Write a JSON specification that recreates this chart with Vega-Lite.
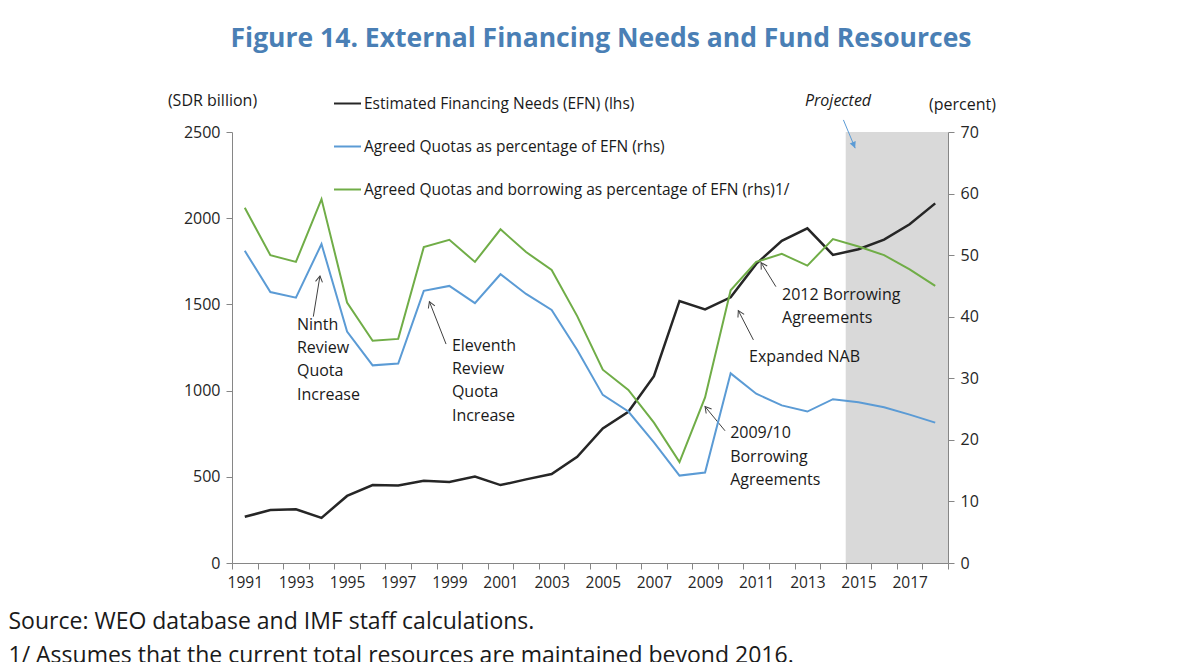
{
  "$schema": "https://vega.github.io/schema/vega-lite/v6.json",
  "width": 716,
  "height": 431,
  "autosize": "none",
  "padding": {"left": 232, "top": 132, "right": 234, "bottom": 99},
  "background": "white",
  "config": {
    "view": {"stroke": null},
    "font": "Open Sans",
    "axis": {"labelFont": "Open Sans", "titleFont": "Open Sans"},
    "legend": {"labelFont": "Open Sans"}
  },
  "title": {
    "text": "Figure 14. External Financing Needs and Fund Resources",
    "font": "Open Sans",
    "fontSize": 26.5,
    "fontWeight": "bold",
    "color": "#4A7FB5",
    "anchor": "middle",
    "frame": "group",
    "dx": 11,
    "offset": 37
  },
  "datasets": {
    "series": [
      {"year": 1991, "efn": 268, "quota": 50.7, "qb": 57.7},
      {"year": 1992, "efn": 307, "quota": 44.0, "qb": 50.0},
      {"year": 1993, "efn": 312, "quota": 43.1, "qb": 48.9},
      {"year": 1994, "efn": 262, "quota": 51.8, "qb": 59.1},
      {"year": 1995, "efn": 389, "quota": 37.6, "qb": 42.3},
      {"year": 1996, "efn": 452, "quota": 32.1, "qb": 36.1},
      {"year": 1997, "efn": 449, "quota": 32.4, "qb": 36.4},
      {"year": 1998, "efn": 477, "quota": 44.2, "qb": 51.3},
      {"year": 1999, "efn": 470, "quota": 45.0, "qb": 52.5},
      {"year": 2000, "efn": 501, "quota": 42.2, "qb": 48.9},
      {"year": 2001, "efn": 452, "quota": 46.9, "qb": 54.2},
      {"year": 2002, "efn": 485, "quota": 43.7, "qb": 50.5},
      {"year": 2003, "efn": 516, "quota": 41.1, "qb": 47.6},
      {"year": 2004, "efn": 616, "quota": 34.6, "qb": 40.1},
      {"year": 2005, "efn": 781, "quota": 27.3, "qb": 31.4},
      {"year": 2006, "efn": 877, "quota": 24.6, "qb": 28.1},
      {"year": 2007, "efn": 1084, "quota": 19.6, "qb": 22.8},
      {"year": 2008, "efn": 1520, "quota": 14.2, "qb": 16.4},
      {"year": 2009, "efn": 1471, "quota": 14.7, "qb": 26.9},
      {"year": 2010, "efn": 1541, "quota": 30.8, "qb": 44.3},
      {"year": 2011, "efn": 1735, "quota": 27.5, "qb": 48.9},
      {"year": 2012, "efn": 1869, "quota": 25.6, "qb": 50.2},
      {"year": 2013, "efn": 1941, "quota": 24.6, "qb": 48.3},
      {"year": 2014, "efn": 1787, "quota": 26.6, "qb": 52.6},
      {"year": 2015, "efn": 1820, "quota": 26.1, "qb": 51.4},
      {"year": 2016, "efn": 1876, "quota": 25.3, "qb": 50.0},
      {"year": 2017, "efn": 1965, "quota": 24.1, "qb": 47.7},
      {"year": 2018, "efn": 2086, "quota": 22.8, "qb": 45.0}
    ],
    "proj": [{"year": 2014.5, "year2": 2018.5}],
    "arrows": [
      {"kind": "note", "year": 1993.68, "value": 1429, "year2": 1993.94, "value2": 1665},
      {"kind": "note", "year": 1998.87, "value": 1270, "year2": 1998.22, "value2": 1516},
      {"kind": "note", "year": 2009.78, "value": 767, "year2": 2009.0, "value2": 907},
      {"kind": "note", "year": 2010.89, "value": 1294, "year2": 2010.30, "value2": 1464},
      {"kind": "note", "year": 2011.77, "value": 1603, "year2": 2011.19, "value2": 1742},
      {"kind": "proj", "year": 2014.41, "value": 2570, "year2": 2014.87, "value2": 2406}
    ],
    "labels": [
      {"year": 1993.04, "value": 1353, "label": "Ninth\nReview\nQuota\nIncrease"},
      {"year": 1999.10, "value": 1231, "label": "Eleventh\nReview\nQuota\nIncrease"},
      {"year": 2009.98, "value": 723, "label": "2009/10\nBorrowing\nAgreements"},
      {"year": 2010.72, "value": 1168, "label": "Expanded NAB"},
      {"year": 2012.01, "value": 1527, "label": "2012 Borrowing\nAgreements"}
    ],
    "projNote": [{"year": 2014.2, "value": 2653, "label": "Projected"}]
  },
  "encoding": {
    "x": {
      "field": "year",
      "type": "quantitative",
      "scale": {"domain": [1990.5, 2018.5], "nice": false, "zero": false},
      "axis": {
        "values": [1990.5,1991,1991.5,1992,1992.5,1993,1993.5,1994,1994.5,1995,1995.5,1996,1996.5,1997,1997.5,1998,1998.5,1999,1999.5,2000,2000.5,2001,2001.5,2002,2002.5,2003,2003.5,2004,2004.5,2005,2005.5,2006,2006.5,2007,2007.5,2008,2008.5,2009,2009.5,2010,2010.5,2011,2011.5,2012,2012.5,2013,2013.5,2014,2014.5,2015,2015.5,2016,2016.5,2017,2017.5,2018,2018.5],
        "labelExpr": "datum.value % 2 === 1 ? format(datum.value, 'd') : ''",
        "labelOverlap": false,
        "labelFlush": false,
        "tickOpacity": {"condition": {"test": "datum.value % 1 !== 0", "value": 1}, "value": 0},
        "tickSize": 6,
        "tickColor": "#868686",
        "domainColor": "#868686",
        "labelFontSize": 15.5,
        "labelColor": "#262626",
        "labelPadding": 6,
        "grid": false,
        "title": ["Source: WEO database and IMF staff calculations.", "1/ Assumes that the current total resources are maintained beyond 2016."],
        "titleFontSize": 23,
        "titleFontWeight": "normal",
        "titleColor": "#1a1a1a",
        "titleAlign": "left",
        "titleAnchor": "start",
        "titleBaseline": "alphabetic",
        "titleX": -224,
        "titleY": 65,
        "titleLineHeight": 34
      }
    }
  },
  "layer": [
    {
      "layer": [
        {
          "data": {"name": "proj"},
          "mark": {"type": "rect", "color": "#D9D9D9"},
          "encoding": {
            "x2": {"field": "year2"},
            "y": {"datum": 0, "type": "quantitative"},
            "y2": {"datum": 2500}
          }
        },
        {
          "data": {"name": "series"},
          "transform": [{"fold": ["efn"], "as": ["series", "value"]}],
          "mark": {"type": "line", "strokeWidth": 2.5},
          "encoding": {
            "y": {
              "field": "value",
              "type": "quantitative",
              "scale": {"domain": [0, 2500], "nice": false},
              "axis": {
                "values": [0, 500, 1000, 1500, 2000, 2500],
                "format": "d",
                "title": "(SDR billion)",
                "titleAngle": 0,
                "titleX": -20,
                "titleY": -32,
                "titleAlign": "center",
                "titleBaseline": "middle",
                "titleFontSize": 16,
                "titleFontWeight": "normal",
                "titleColor": "#1a1a1a",
                "labelFontSize": 16,
                "labelColor": "#262626",
                "labelPadding": 6,
                "tickSize": 6,
                "tickColor": "#868686",
                "domainColor": "#868686",
                "grid": false
              }
            },
            "color": {
              "field": "series",
              "type": "nominal",
              "scale": {"domain": ["efn", "quota", "qb"], "range": ["#262626", "#5B9BD5", "#70AD47"]},
              "legend": {
                "orient": "none",
                "legendX": 101,
                "legendY": -43,
                "direction": "vertical",
                "title": null,
                "padding": 0,
                "symbolType": "stroke",
                "symbolSize": 729,
                "symbolStrokeWidth": 2,
                "labelFontSize": 15.5,
                "labelColor": "#1a1a1a",
                "labelOffset": 2,
                "labelLimit": 600,
                "rowPadding": 20,
                "labelExpr": "datum.value === 'efn' ? 'Estimated Financing Needs (EFN) (lhs)' : datum.value === 'quota' ? 'Agreed Quotas as percentage of EFN (rhs)' : 'Agreed Quotas and borrowing as percentage of EFN (rhs)1/'"
              }
            }
          }
        },
        {
          "data": {"name": "arrows"},
          "transform": [{"filter": "datum.kind === 'note'"}],
          "mark": {"type": "rule", "color": "#404040", "strokeWidth": 1},
          "encoding": {
            "y": {"field": "value", "type": "quantitative"},
            "x2": {"field": "year2"},
            "y2": {"field": "value2"}
          }
        },
        {
          "data": {"name": "arrows"},
          "transform": [
            {"filter": "datum.kind === 'note'"},
            {"calculate": "atan2((datum.year2 - datum.year) * 25.571, (datum.value2 - datum.value) * 0.1724) * 180 / PI", "as": "ang"}
          ],
          "mark": {"type": "point", "shape": "M-0.7,1.2L0,0L0.7,1.2", "filled": false, "stroke": "#404040", "strokeWidth": 1, "size": 100, "opacity": 1},
          "encoding": {
            "x": {"field": "year2", "type": "quantitative"},
            "y": {"field": "value2", "type": "quantitative"},
            "angle": {"field": "ang", "type": "quantitative", "scale": null}
          }
        },
        {
          "data": {"name": "arrows"},
          "transform": [{"filter": "datum.kind === 'proj'"}],
          "mark": {"type": "rule", "color": "#5B9BD5", "strokeWidth": 1},
          "encoding": {
            "y": {"field": "value", "type": "quantitative"},
            "x2": {"field": "year2"},
            "y2": {"field": "value2"}
          }
        },
        {
          "data": {"name": "arrows"},
          "transform": [
            {"filter": "datum.kind === 'proj'"},
            {"calculate": "atan2((datum.year2 - datum.year) * 25.571, (datum.value2 - datum.value) * 0.1724) * 180 / PI", "as": "ang"}
          ],
          "mark": {"type": "point", "shape": "M-0.8,1.6L0,0L0.8,1.6Z", "filled": true, "fill": "#5B9BD5", "strokeWidth": 0, "size": 64, "opacity": 1},
          "encoding": {
            "x": {"field": "year2", "type": "quantitative"},
            "y": {"field": "value2", "type": "quantitative"},
            "angle": {"field": "ang", "type": "quantitative", "scale": null}
          }
        },
        {
          "data": {"name": "labels"},
          "mark": {"type": "text", "align": "left", "baseline": "alphabetic", "fontSize": 16, "lineBreak": "\n", "lineHeight": 23.3, "color": "#1a1a1a", "font": "Open Sans"},
          "encoding": {
            "y": {"field": "value", "type": "quantitative"},
            "text": {"field": "label"}
          }
        },
        {
          "data": {"name": "projNote"},
          "mark": {"type": "text", "align": "center", "baseline": "alphabetic", "fontSize": 16, "fontStyle": "italic", "color": "#1a1a1a", "font": "Open Sans"},
          "encoding": {
            "y": {"field": "value", "type": "quantitative"},
            "text": {"field": "label"}
          }
        }
      ]
    },
    {
      "data": {"name": "series"},
      "transform": [{"fold": ["quota", "qb"], "as": ["series", "value"]}],
      "mark": {"type": "line", "strokeWidth": 2},
      "encoding": {
        "y": {
          "field": "value",
          "type": "quantitative",
          "scale": {"domain": [0, 70], "nice": false},
          "axis": {
            "orient": "right",
            "values": [0, 10, 20, 30, 40, 50, 60, 70],
            "title": "(percent)",
            "titleAngle": 0,
            "titleX": 14,
            "titleY": -28,
            "titleAlign": "center",
            "titleBaseline": "middle",
            "titleFontSize": 16,
            "titleFontWeight": "normal",
            "titleColor": "#1a1a1a",
            "labelFontSize": 16,
            "labelColor": "#262626",
            "labelPadding": 6,
            "tickSize": 6,
            "tickColor": "#868686",
            "domainColor": "#868686",
            "grid": false
          }
        },
        "color": {
          "field": "series",
          "type": "nominal",
          "scale": {"domain": ["efn", "quota", "qb"], "range": ["#262626", "#5B9BD5", "#70AD47"]}
        }
      }
    }
  ],
  "resolve": {"scale": {"y": "independent"}}
}
